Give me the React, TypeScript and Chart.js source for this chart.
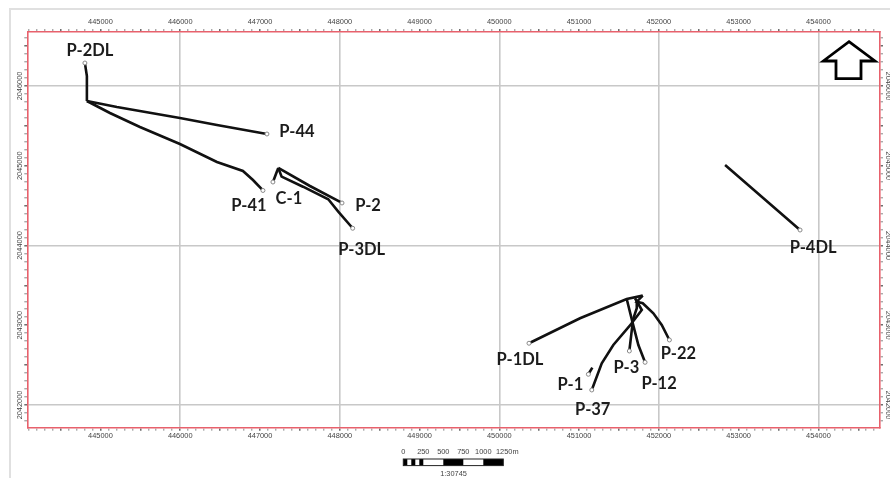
import React, { useEffect, useRef } from "react";
import { Chart, registerables } from "chart.js";

Chart.register(...registerables);

// Well trajectories: [easting, northing]
const p2dl = [[444805, 2046288], [444830, 2046125], [444830, 2045812]];
const p44 = [[444830, 2045812], [445206, 2045737], [445996, 2045599], [446460, 2045510], [447087, 2045398]];
const p41 = [[444830, 2045812], [445119, 2045661], [445495, 2045486], [445996, 2045273], [446460, 2045047], [446786, 2044934], [446912, 2044821], [447037, 2044690]];
const c1 = [[447229, 2044972], [447162, 2044796]];
const p2 = [[447229, 2044972], [447626, 2044746], [448028, 2044533]];
const p3dl = [[447229, 2044972], [447271, 2044863], [447539, 2044737], [447856, 2044579], [447981, 2044424], [448162, 2044216]];
const p4dl = [[452830, 2045009], [453394, 2044520], [453770, 2044194]];
const p1dl = [[451798, 2043371], [451597, 2043329], [451012, 2043087], [450372, 2042774]];
const p3 = [[451701, 2043338], [451786, 2043191], [451673, 2043045], [451630, 2042677]];
const p12 = [[451597, 2043329], [451673, 2043024], [451743, 2042752], [451827, 2042535]];
const p37 = [[451723, 2043295], [451723, 2043213], [451660, 2043024], [451429, 2042752], [451284, 2042523], [451159, 2042188]];
const p22 = [[451798, 2043371], [451723, 2043295], [451798, 2043275], [451931, 2043150], [452036, 2043003], [452132, 2042815]];
const p1 = [[451166, 2042468], [451116, 2042385]];

const wellNames = ["P-2DL", "P-44", "P-41", "C-1", "P-2", "P-3DL", "P-4DL", "P-1DL", "P-3", "P-12", "P-37", "P-22", "P-1"];
const wellPaths = [p2dl, p44, p41, c1, p2, p3dl, p4dl, p1dl, p3, p12, p37, p22, p1];
// Label offset in pixels from the well's anchor point
const labelAnchorIsFirst = ["P-2DL"];
const labelOffsetsX = [5, 30, -14, 16, 26, 9, 13, -9, -3, 14, 1, 9, -18];
const labelOffsetsY = [-12, -2, 15.5, 17, 3, 21, 18, 16, 17, 21, 20, 14, 10];

const xRange = [444083, 454772];
const yRange = [2041715, 2046677];
const scaleBarLabels = ["0", "250", "500", "750", "1000", "1250m"];
const scaleText = "1:30745";

const arrowShape = [[849, 41.7], [875, 61], [861, 61], [861, 78.7], [836, 78.7], [836, 61], [823.3, 61]];

const TICK_FONT = { family: "'Liberation Sans', Arial, sans-serif", size: 7.4 };
const TICK_COLOR = "#444";
const GRID = "#c8c8c8";
const FRAME = "#e8616c";

const isMult = (v: number, m: number) => Math.abs(v % m) < 1e-6;
const tickLabel = (v: any) => (isMult(Number(v), 1000) ? String(v) : "");

const baseAxis = (step: number, range: number[], gridOn: boolean) => ({
  type: "linear",
  min: range[0],
  max: range[1],
  border: { color: FRAME, width: 1.6 },
  grid: {
    drawOnChartArea: gridOn,
    drawTicks: true,
    tickLength: 3,
    lineWidth: 1.6,
    tickWidth: (c: any) => (isMult(c.tick.value, 500) ? 1.3 : 1),
    tickColor: (c: any) => (isMult(c.tick.value, 500) ? "#555" : "#888"),
    color: (c: any) => (isMult(c.tick.value, 2000) ? GRID : "rgba(0,0,0,0)"),
  },
  ticks: {
    stepSize: step,
    includeBounds: false,
    autoSkip: false,
    minRotation: 0,
    maxRotation: 0,
    callback: tickLabel,
    color: TICK_COLOR,
    font: TICK_FONT,
  },
});

const fixSize = (prop: "width" | "height", size: number) => (scale: any) => {
  scale[prop] = size;
};

const overlay = {
  id: "overlay",
  afterDatasetsDraw(chart: any) {
    const { ctx, scales } = chart;
    ctx.save();
    // Well labels
    ctx.font = "700 16.5px Lato, 'Open Sans', sans-serif";
    ctx.fillStyle = "#1c1c1c";
    ctx.textAlign = "center";
    ctx.textBaseline = "middle";
    wellNames.forEach((name, i) => {
      const path = wellPaths[i];
      const pt = labelAnchorIsFirst.includes(name) ? path[0] : path[path.length - 1];
      ctx.fillText(
        name,
        scales.x.getPixelForValue(pt[0]) + labelOffsetsX[i],
        scales.y.getPixelForValue(pt[1]) + labelOffsetsY[i]
      );
    });
    // North arrow
    ctx.beginPath();
    arrowShape.forEach((p, i) => (i ? ctx.lineTo(p[0], p[1]) : ctx.moveTo(p[0], p[1])));
    ctx.closePath();
    ctx.lineWidth = 2.8;
    ctx.lineJoin = "miter";
    ctx.strokeStyle = "#000";
    ctx.fillStyle = "#fff";
    ctx.fill();
    ctx.stroke();
    // Scale bar
    const bx = 403.3;
    const step = 20;
    const by = 459;
    const bh = 6.6;
    ctx.fillStyle = "#000";
    for (let i = 0; i < 5; i += 2) ctx.fillRect(bx + (i * step) / 5, by, step / 5, bh);
    ctx.fillRect(bx + 2 * step, by, step, bh);
    ctx.fillRect(bx + 4 * step, by, step, bh);
    ctx.strokeStyle = "#222";
    ctx.lineWidth = 1;
    ctx.strokeRect(bx, by, step * 5, bh);
    ctx.font = "7.4px 'Liberation Sans', Arial, sans-serif";
    ctx.fillStyle = TICK_COLOR;
    scaleBarLabels.forEach((t, i) => {
      const dx = t.endsWith("m") ? 4 : 0;
      ctx.fillText(t, bx + i * step + dx, 452);
    });
    ctx.fillText(scaleText, 453.5, 474);
    ctx.restore();
  },
};

export default function App() {
  const ref = useRef<HTMLCanvasElement>(null);
  useEffect(() => {
    const chart = new Chart(ref.current as any, {
      type: "scatter",
      plugins: [overlay],
      data: {
        datasets: wellPaths.map((path, i) => ({
          label: wellNames[i],
          data: path.map(([x, y]) => ({ x, y })),
          showLine: true,
          borderColor: "#111",
          borderWidth: 2.6,
          tension: 0,
          xAxisID: "x",
          yAxisID: "y",
          pointRadius: (c: any) =>
            c.dataIndex === (labelAnchorIsFirst.includes(wellNames[i]) ? 0 : path.length - 1) ? 2 : 0,
          pointBackgroundColor: "#fff",
          pointBorderColor: "#888",
          pointBorderWidth: 1,
        })),
      },
      options: {
        responsive: false,
        animation: false,
        layout: { padding: { left: 0, top: 0, right: 0, bottom: 0 } },
        plugins: { legend: { display: false }, tooltip: { enabled: false }, title: { display: false } },
        scales: {
          x: { ...baseAxis(100, xRange, true), position: "top", afterFit: fixSize("height", 32) },
          x2: {
            ...baseAxis(100, xRange, false),
            position: "bottom",
            afterFit: fixSize("height", 50.3),
            ticks: { ...baseAxis(100, xRange, false).ticks, padding: 1 },
          },
          y: {
            ...baseAxis(100, yRange, true),
            position: "left",
            afterFit: fixSize("width", 27.3),
            ticks: { ...baseAxis(100, yRange, true).ticks, minRotation: 90, maxRotation: 90, crossAlign: "center", padding: -10 },
          },
          y2: {
            ...baseAxis(100, yRange, false),
            position: "right",
            afterFit: fixSize("width", 10),
            ticks: { ...baseAxis(100, yRange, false).ticks, minRotation: -90, maxRotation: -90, crossAlign: "center", padding: -9 },
          },
        },
      } as any,
    });
    return () => chart.destroy();
  }, []);
  return (
    <div style={{ position: "absolute", left: 0, top: 0, width: 890, height: 478, overflow: "hidden", background: "#fff" }}>
      <div style={{ position: "absolute", left: 8.5, top: 8, right: 0, bottom: 0, borderLeft: "2px solid #e0e0e0", borderTop: "2px solid #e0e0e0" }} />
      <canvas ref={ref} width={890} height={478} style={{ position: "absolute", left: 0, top: 0, width: 890, height: 478, filter: "blur(0.45px)" }} />
    </div>
  );
}
